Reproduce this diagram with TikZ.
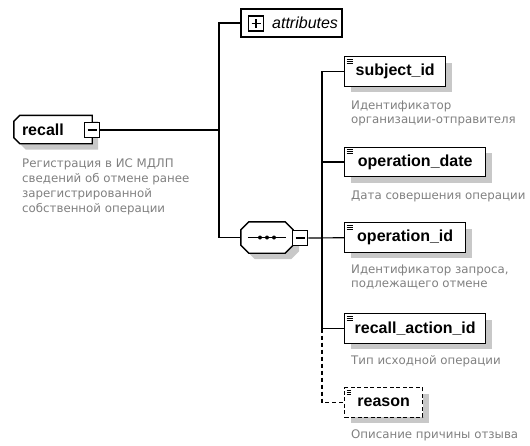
\documentclass[tikz,border=0pt]{standalone}
\usepackage{fontspec}
\setmainfont{Liberation Sans}
\newfontfamily\DescFont{DejaVu Sans}
\usepackage{xcolor}
\definecolor{ColBlack}{RGB}{0,0,0}
\definecolor{ColDesc}{RGB}{128,128,128}
\definecolor{ColShadow}{RGB}{200,200,200}
\usepackage{tikz}
\usetikzlibrary{shadows}
\usetikzlibrary{backgrounds}
\tikzstyle{ShadowBox}=[drop shadow={shadow xshift=6pt,shadow yshift=-6pt,
    fill=ColShadow,opacity=1}]
\tikzstyle{Shade}=[fill=ColShadow,transform canvas={shift={(6pt,-6pt)}}]
\tikzstyle{Outline}=[ColBlack!100,draw,fill=white,line width=1.4pt]
\tikzstyle{Line}=[ColBlack!100,draw,line width=1.2pt]
\tikzstyle{Optional}=[Line,dash pattern=on 4pt off 3pt]
\tikzstyle{Toggle}=[ColBlack!100,draw,fill=white,line width=1.6pt,
    minimum size=15pt,inner sep=0pt]
\tikzstyle{Collapse}=[Toggle,path picture={\draw[line width=1.3pt]
    ([xshift=3pt]path picture bounding box.west)--
    ([xshift=-3pt]path picture bounding box.east);}]
\tikzstyle{Expand}=[Toggle,path picture={\draw[line width=1.3pt]
    ([xshift=3pt]path picture bounding box.west)--
    ([xshift=-3pt]path picture bounding box.east)
    ([yshift=-3pt]path picture bounding box.north)--
    ([yshift=3pt]path picture bounding box.south);}]
\tikzstyle{Root}=[minimum width=78pt,minimum height=28pt,
    text width=62pt,align=left,inner xsep=8pt,
    font=\fontsize{16}{18}\bfseries]
\tikzstyle{Attributes}=[Outline,minimum width=101pt,minimum height=28pt,
    text width=93pt,align=right,inner xsep=4pt,font=\fontsize{16}{18}\itshape]
\tikzstyle{Sequence}=[minimum width=52pt,minimum height=31pt,inner sep=0pt]
\tikzstyle{Element}=[Outline,minimum height=29.5pt,inner xsep=0pt,anchor=west,
    font=\fontsize{16}{18}\bfseries,ShadowBox,
    path picture={\foreach \k in {0,1,2}
        \draw[line width=0.7pt]([xshift=2pt,yshift={-(2.5+2*\k)*1pt}]
        path picture bounding box.north west)--++(6pt,0pt);}]
\tikzstyle{Desc}=[anchor=base west,inner sep=0pt,align=left,text=ColDesc,
    font=\DescFont\fontsize{11.8}{14}\selectfont]

\begin{document}
\begin{tikzpicture}[x=1pt,y=-1pt]
        \useasboundingbox(0,0)rectangle(530,445);
        \node[Root](recall)at(53,129.5){recall};
        \node[Sequence](seq)at(267,237.5){};
        \begin{scope}[on background layer]
            \foreach \s in {Shade,Outline}
                \path[\s]([xshift=6pt]recall.north west)--(recall.north east)
                    --(recall.south east)--([xshift=6pt]recall.south west)
                    --([yshift=6pt]recall.south west)
                    --([yshift=-6pt]recall.north west)--cycle;
            \foreach \s in {Shade,Outline}
                \path[\s]([xshift=8pt]seq.north west)
                    --([xshift=-8pt]seq.north east)
                    --([yshift=-8pt]seq.north east)
                    --([yshift=8pt]seq.south east)
                    --([xshift=-8pt]seq.south east)
                    --([xshift=8pt]seq.south west)
                    --([yshift=8pt]seq.south west)
                    --([yshift=-8pt]seq.north west)--cycle;
        \end{scope}
        \draw[line width=1pt]([xshift=7pt]seq.west)--([xshift=-7pt]seq.east);
        \foreach \d in {-7,0,7}
            \fill([xshift=\d pt]seq.center)circle(2pt);
        \node[Collapse](recallC)at(92,130){};
        \node[Collapse](seqC)at(300,238){};
        \node[Desc,font=\DescFont\fontsize{11.8}{15}\selectfont](recallD)
            at(22,212.5){Регистрация в ИС МДЛП\\сведений об отмене ранее\\
            зарегистрированной\\собственной операции};
        \node[Attributes](attr)at(291.5,23){attributes};
        \node[Expand](attrE)at(256,23.5){};
        \coordinate(J1)at(219,130);
        \coordinate(J2)at(322,237.5);
        \node[Element,minimum width=101pt](subj)at(344,71.5){subject\_id};
        \node[Element,minimum width=141pt](opdate)at(344,162)
            {operation\_date};
        \node[Element,minimum width=121pt](opid)at(344,237.5)
            {operation\_id};
        \node[Element,minimum width=141pt](recact)at(344,328.5)
            {recall\_action\_id};
        \node[Element,minimum width=78pt,dash pattern=on 4pt off 2.5pt]
            (reason)at(344,402.5){reason};
        \node[Desc](subjD)at(351,123){Идентификатор\\организации-отправителя};
        \node[Desc](opdateD)at(351,199.5){Дата совершения операции};
        \node[Desc](opidD)at(351,287){Идентификатор запроса,\\подлежащего отмене};
        \node[Desc](recactD)at(351,364.5){Тип исходной операции};
        \node[Desc](reasonD)at(351,438.5){Описание причины отзыва};
        \draw[Line](recallC)--(J1);
        \draw[Line](attr.west)-|(J1)|-(seq.west);
        \draw[Line](seqC)--(opid);
        \draw[Line](subj.west)-|(J2)|-(recact.west);
        \draw[Line](opdate.west)-|(J2);
        \draw[Optional](J2|-recact.west)|-(reason.west);
    \end{tikzpicture}
\end{document}
